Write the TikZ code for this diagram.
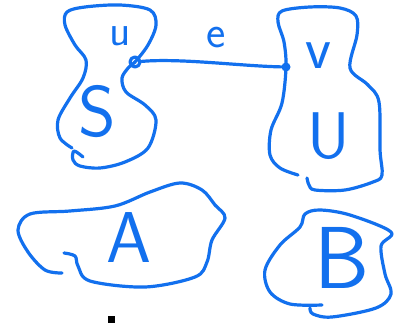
\documentclass[tikz,border=0pt]{standalone}
\usepackage{fontspec}
\definecolor{ink}{RGB}{18,112,238}
\tikzset{
  pen/.style={draw=ink, line width=3.2pt, line cap=round, line join=round},
  lbl/.style={text=ink, inner sep=0pt, font=\sffamily}
}
\begin{document}
\begin{tikzpicture}[x=1pt,y=-1pt]
\fill[white] (0,0) rectangle (406,323);
\useasboundingbox (0,0) rectangle (406,323);
% S blob
\draw[pen] plot[smooth, tension=0.55] coordinates {(83,157) (74,151) (73,160) (80,166) (100,168) (125,162) (148,148) (156,120) (145,105) (126,92) (122,78) (129,67) (135,62) (148,45) (156,25) (150,10) (120,5) (85,7) (67,12) (65,25) (75,45) (86,60) (83,78) (70,98) (58,120) (60,138) (72,148)};
% U blob
\draw[pen] plot[smooth, tension=0.55] coordinates {(298,175) (280,168) (270,155) (271,130) (282,103) (286,67) (284,42) (278,22) (282,11) (310,7) (340,8) (356,16) (357,35) (350,68) (368,85) (379,102) (380,150) (382,175) (373,182) (345,190) (315,190) (309,185) (307,178)};
% A blob
\draw[pen] plot[smooth, tension=0.55] coordinates {(62,273) (45,270) (28,252) (18,230) (30,214) (70,211) (115,206) (150,192) (180,183) (202,190) (215,205) (225,218) (212,240) (207,262) (195,277) (145,287) (90,281) (78,266) (75,256) (64,253)};
% B blob
\draw[pen] plot[smooth, tension=0.55] coordinates {(322,305) (290,304) (270,292) (265,270) (280,245) (300,227) (305,214) (320,210) (350,215) (391,232) (381,246) (385,274) (391,294) (376,308) (332,317) (313,314) (310,308)};
% vertices and edge
\node (ud) [circle, pen, minimum size=10pt, inner sep=0pt] at (135,62) {};
\node (vd) [circle, fill=ink, minimum size=9pt, inner sep=0pt] at (286,67) {};
\draw[pen] (ud) .. controls (180,58) and (240,66) .. (vd);
% labels
\node (lu) [lbl, font=\sffamily\fontsize{44}{44}\selectfont] at (120,36) {u};
\node (le) [lbl, font=\sffamily\fontsize{46}{46}\selectfont] at (216,38) {e};
\node (lv) [lbl, font=\sffamily\fontsize{60}{60}\selectfont] at (318,56) {v};
\node (lS) [lbl, font=\sffamily\fontsize{72}{72}\selectfont] at (97,112) {S};
\node (lU) [lbl, font=\sffamily\fontsize{66}{66}\selectfont] at (329,136) {U};
\node (lA) [lbl, font=\sffamily\fontsize{72}{72}\selectfont] at (129,238) {A};
\node (lB) [lbl, font=\sffamily\fontsize{88}{88}\selectfont] at (342,258) {B};
% black mark
\fill[black] (108,316) rectangle (115,323);
\end{tikzpicture}
\end{document}
